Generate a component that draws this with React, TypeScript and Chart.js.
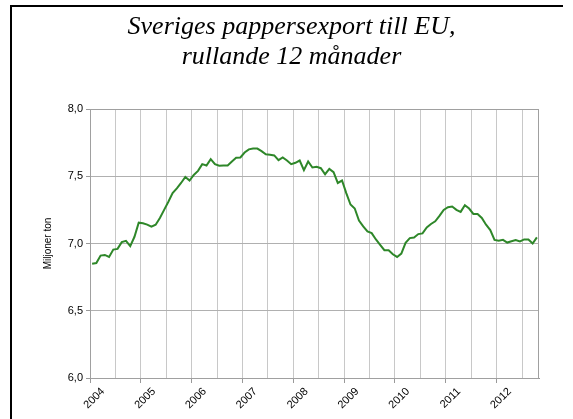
import { useEffect, useRef } from 'react';
import { Chart, registerables } from 'chart.js';

Chart.register(...registerables);

// Rolling 12-month Swedish paper export to the EU, million tonnes, monthly from Jan 2004
const exportValues: number[] = [
  6.85, 6.855, 6.91, 6.915, 6.9, 6.955, 6.96, 7.01, 7.02, 6.98,
  7.05, 7.155, 7.15, 7.14, 7.125, 7.14, 7.19, 7.25, 7.31, 7.375,
  7.41, 7.45, 7.495, 7.468, 7.51, 7.54, 7.59, 7.58, 7.627, 7.59,
  7.578, 7.58, 7.58, 7.61, 7.637, 7.64, 7.676, 7.7, 7.706, 7.706,
  7.687, 7.664, 7.66, 7.655, 7.62, 7.64, 7.617, 7.59, 7.6, 7.617,
  7.545, 7.61, 7.565, 7.57, 7.56, 7.515, 7.555, 7.53, 7.45, 7.468,
  7.375, 7.29, 7.26, 7.17, 7.127, 7.09, 7.077, 7.03, 6.99, 6.95,
  6.95, 6.92, 6.9, 6.925, 7.005, 7.04, 7.045, 7.07, 7.075, 7.12,
  7.145, 7.165, 7.205, 7.25, 7.27, 7.275, 7.25, 7.235, 7.285, 7.26,
  7.22, 7.22, 7.19, 7.14, 7.1, 7.027, 7.02, 7.027, 7.007, 7.017,
  7.025, 7.015, 7.03, 7.03, 7.0, 7.045,
];

const yearLabels: string[] = ['2004', '2005', '2006', '2007', '2008', '2009', '2010', '2011', '2012'];
const totalMonths = 106; // axis span in months from Jan 2004
const titleLines: string[] = ['Sveriges pappersexport till EU,', 'rullande 12 månader'];
const yAxisTitle = 'Miljoner ton';
const yMin = 6;
const yMax = 8;
const yStep = 0.5;

export default function App() {
  const ref = useRef<HTMLCanvasElement>(null);

  useEffect(() => {
    if (!ref.current) return;

    const framePlugin = {
      id: 'frame',
      beforeDraw(chart: any) {
        const ctx = chart.ctx;
        ctx.save();
        ctx.fillStyle = '#ffffff';
        ctx.fillRect(0, 0, chart.width, chart.height);
        ctx.fillStyle = '#000000';
        ctx.fillRect(10, 5, 553, 2);
        ctx.fillRect(10, 5, 2, chart.height - 5);
        ctx.restore();
      },
    };

    const plotBoxPlugin = {
      id: 'plotBox',
      beforeDatasetsDraw(chart: any) {
        const { left, top, right, bottom } = chart.chartArea;
        const ctx = chart.ctx;
        ctx.save();
        ctx.strokeStyle = '#a0a0a0';
        ctx.lineWidth = 1;
        ctx.strokeRect(Math.round(left) + 0.5, Math.round(top) + 0.5, Math.round(right - left) - 1, Math.round(bottom - top));
        ctx.restore();
      },
    };

    const titlePlugin = {
      id: 'titleText',
      afterDraw(chart: any) {
        const ctx = chart.ctx;
        ctx.save();
        ctx.font = 'italic 26px "Liberation Serif", "Times New Roman", serif';
        ctx.fillStyle = '#000000';
        ctx.textAlign = 'center';
        ctx.textBaseline = 'alphabetic';
        ctx.fillText(titleLines[0], 291.5, 33.5);
        ctx.fillText(titleLines[1], 291.5, 63.5);
        ctx.restore();
      },
    };

    const chart = new Chart(ref.current, {
      type: 'line',
      data: {
        datasets: [
          {
            data: exportValues.map((v, i) => ({ x: i + 0.5, y: v })),
            borderColor: '#2e8729',
            borderWidth: 2,
            pointRadius: 0,
            tension: 0,
            fill: false,
          },
        ],
      },
      options: {
        animation: false,
        responsive: false,
        devicePixelRatio: 1,
        layout: { padding: { left: 10, right: 34, top: 109, bottom: 0 } },
        plugins: {
          legend: { display: false },
          tooltip: { enabled: false },
          title: { display: false },
        },
        scales: {
          x: {
            type: 'linear',
            min: 0,
            max: totalMonths,
            afterFit(scale: any) {
              scale.height = 41;
            },
            grid: {
              color: '#c8c8c8',
              lineWidth: 1,
              tickLength: 5,
              tickColor: (ctx: any) => (ctx.tick && ctx.tick.value % 12 === 0 ? '#999999' : 'rgba(0,0,0,0)'),
            },
            border: { display: true, color: '#999999' },
            ticks: {
              stepSize: 6,
              includeBounds: false,
              autoSkip: false,
              maxRotation: 45,
              minRotation: 45,
              padding: 2,
              labelOffset: 13,
              color: '#000000',
              font: { family: '"Liberation Sans", Arial, sans-serif', size: 11 },
              callback: (value: any) => {
                const v = Number(value);
                return v % 12 === 0 ? yearLabels[v / 12] ?? '' : '';
              },
            },
          },
          y: {
            min: yMin,
            max: yMax,
            afterFit(scale: any) {
              scale.width = 80;
            },
            grid: {
              color: '#b0b0b0',
              lineWidth: 1,
              tickLength: 4,
              tickColor: '#999999',
            },
            border: { display: true, color: '#999999' },
            ticks: {
              stepSize: yStep,
              padding: 3,
              color: '#000000',
              font: { family: '"Liberation Sans", Arial, sans-serif', size: 11 },
              callback: (value: any) => Number(value).toFixed(1).replace('.', ','),
            },
            title: {
              display: true,
              text: yAxisTitle,
              color: '#000000',
              font: { family: '"Liberation Sans", Arial, sans-serif', size: 10 },
              padding: { top: 32, bottom: 0 },
            },
          },
        },
      },
      plugins: [framePlugin, plotBoxPlugin, titlePlugin],
    });

    return () => chart.destroy();
  }, []);

  return (
    <div style={{ position: 'fixed', left: 0, top: 0, width: 573, height: 419 }}>
      <canvas ref={ref} width={573} height={419} style={{ display: 'block' }} />
    </div>
  );
}
